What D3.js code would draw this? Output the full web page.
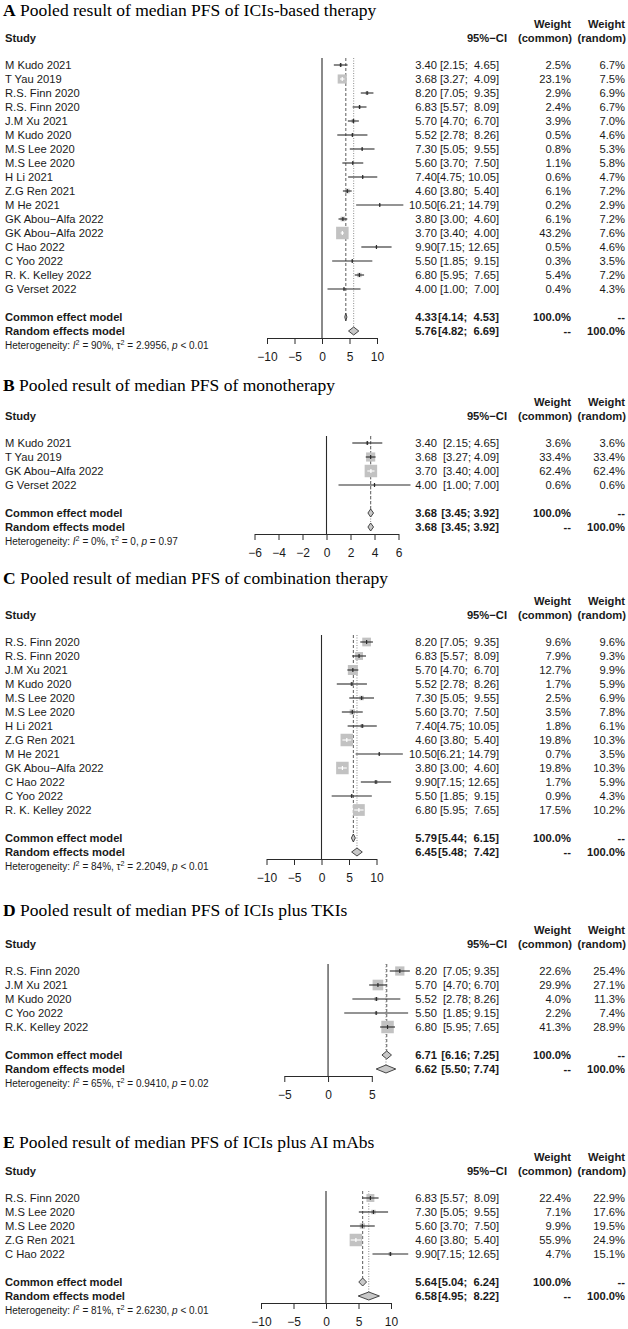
<!DOCTYPE html>
<html><head><meta charset="utf-8">
<script src="https://cdn.jsdelivr.net/npm/d3@7"></script>
<style>body{margin:0;background:#fff} svg{display:block}</style>
</head><body><svg id="c" width="628" height="1329"></svg>
<script>
// ---------------- DATA ----------------
const panelLetters = ["A", "B", "C", "D", "E"];
const panelTitles = [
  "Pooled result of median PFS of ICIs-based therapy",
  "Pooled result of median PFS of monotherapy",
  "Pooled result of median PFS of combination therapy",
  "Pooled result of median PFS of ICIs plus TKIs",
  "Pooled result of median PFS of ICIs plus AI mAbs"
];

// Panel A
const studiesA = ["M Kudo 2021","T Yau 2019","R.S. Finn 2020","R.S. Finn 2020","J.M Xu 2021","M Kudo 2020","M.S Lee 2020","M.S Lee 2020","H Li 2021","Z.G Ren 2021","M He 2021","GK Abou\u2212Alfa 2022","GK Abou\u2212Alfa 2022","C Hao 2022","C Yoo 2022","R. K. Kelley 2022","G Verset 2022"];
const estA = [3.40,3.68,8.20,6.83,5.70,5.52,7.30,5.60,7.40,4.60,10.50,3.80,3.70,9.90,5.50,6.80,4.00];
const lowA = [2.15,3.27,7.05,5.57,4.70,2.78,5.05,3.70,4.75,3.80,6.21,3.00,3.40,7.15,1.85,5.95,1.00];
const upA  = [4.65,4.09,9.35,8.09,6.70,8.26,9.55,7.50,10.05,5.40,14.79,4.60,4.00,12.65,9.15,7.65,7.00];
const wCommonA = [2.5,23.1,2.9,2.4,3.9,0.5,0.8,1.1,0.6,6.1,0.2,6.1,43.2,0.5,0.3,5.4,0.4];
const wRandomA = [6.7,7.5,6.9,6.7,7.0,4.6,5.3,5.8,4.7,7.2,2.9,7.2,7.6,4.6,3.5,7.2,4.3];
const commonA = [4.33,4.14,4.53];
const randomA = [5.76,4.82,6.69];
const hetA = ["90%","2.9956","< 0.01"];
const ticksA = [-10,-5,0,5,10];

// Panel B
const studiesB = ["M Kudo 2021","T Yau 2019","GK Abou\u2212Alfa 2022","G Verset 2022"];
const estB = [3.40,3.68,3.70,4.00];
const lowB = [2.15,3.27,3.40,1.00];
const upB  = [4.65,4.09,4.00,7.00];
const wCommonB = [3.6,33.4,62.4,0.6];
const wRandomB = [3.6,33.4,62.4,0.6];
const commonB = [3.68,3.45,3.92];
const randomB = [3.68,3.45,3.92];
const hetB = ["0%","0","= 0.97"];
const ticksB = [-6,-4,-2,0,2,4,6];

// Panel C
const studiesC = ["R.S. Finn 2020","R.S. Finn 2020","J.M Xu 2021","M Kudo 2020","M.S Lee 2020","M.S Lee 2020","H Li 2021","Z.G Ren 2021","M He 2021","GK Abou\u2212Alfa 2022","C Hao 2022","C Yoo 2022","R. K. Kelley 2022"];
const estC = [8.20,6.83,5.70,5.52,7.30,5.60,7.40,4.60,10.50,3.80,9.90,5.50,6.80];
const lowC = [7.05,5.57,4.70,2.78,5.05,3.70,4.75,3.80,6.21,3.00,7.15,1.85,5.95];
const upC  = [9.35,8.09,6.70,8.26,9.55,7.50,10.05,5.40,14.79,4.60,12.65,9.15,7.65];
const wCommonC = [9.6,7.9,12.7,1.7,2.5,3.5,1.8,19.8,0.7,19.8,1.7,0.9,17.5];
const wRandomC = [9.6,9.3,9.9,5.9,6.9,7.8,6.1,10.3,3.5,10.3,5.9,4.3,10.2];
const commonC = [5.79,5.44,6.15];
const randomC = [6.45,5.48,7.42];
const hetC = ["84%","2.2049","< 0.01"];
const ticksC = [-10,-5,0,5,10];

// Panel D
const studiesD = ["R.S. Finn 2020","J.M Xu 2021","M Kudo 2020","C Yoo 2022","R.K. Kelley 2022"];
const estD = [8.20,5.70,5.52,5.50,6.80];
const lowD = [7.05,4.70,2.78,1.85,5.95];
const upD  = [9.35,6.70,8.26,9.15,7.65];
const wCommonD = [22.6,29.9,4.0,2.2,41.3];
const wRandomD = [25.4,27.1,11.3,7.4,28.9];
const commonD = [6.71,6.16,7.25];
const randomD = [6.62,5.50,7.74];
const hetD = ["65%","0.9410","= 0.02"];
const ticksD = [-5,0,5];

// Panel E
const studiesE = ["R.S. Finn 2020","M.S Lee 2020","M.S Lee 2020","Z.G Ren 2021","C Hao 2022"];
const estE = [6.83,7.30,5.60,4.60,9.90];
const lowE = [5.57,5.05,3.70,3.80,7.15];
const upE  = [8.09,9.55,7.50,5.40,12.65];
const wCommonE = [22.4,7.1,9.9,55.9,4.7];
const wRandomE = [22.9,17.6,19.5,24.9,15.1];
const commonE = [5.64,5.04,6.24];
const randomE = [6.58,4.95,8.22];
const hetE = ["81%","2.6230","< 0.01"];
const ticksE = [-10,-5,0,5,10];

// ---------------- LAYOUT ----------------
const layout = [
  {title: 10,   first: 65,   range: [267, 377]},
  {title: 385,  first: 443,  range: [254.5, 398.5]},
  {title: 578,  first: 642,  range: [266.5, 376.5]},
  {title: 910,  first: 971,  range: [284.3, 371.8]},
  {title: 1142, first: 1198, range: [261, 391]}
];
const panels = [
  {studies: studiesA, est: estA, low: lowA, up: upA, wc: wCommonA, wr: wRandomA, common: commonA, random: randomA, het: hetA, ticks: ticksA},
  {studies: studiesB, est: estB, low: lowB, up: upB, wc: wCommonB, wr: wRandomB, common: commonB, random: randomB, het: hetB, ticks: ticksB},
  {studies: studiesC, est: estC, low: lowC, up: upC, wc: wCommonC, wr: wRandomC, common: commonC, random: randomC, het: hetC, ticks: ticksC},
  {studies: studiesD, est: estD, low: lowD, up: upD, wc: wCommonD, wr: wRandomD, common: commonD, random: randomD, het: hetD, ticks: ticksD},
  {studies: studiesE, est: estE, low: lowE, up: upE, wc: wCommonE, wr: wRandomE, common: commonE, random: randomE, het: hetE, ticks: ticksE}
];

const SANS = "'Liberation Sans', Arial, Helvetica, sans-serif";
const SERIF = "'Liberation Serif', 'Times New Roman', serif";
const FS = 11.2;
const BL = FS * 0.36;
const STEP = 14;
const COL = {est: 437, ci: 499, ciHead: 507, wc: 571, wr: 625};
const INK = "#1a1a1a", LINE = "#2a2a2a", SQ = "#c2c2c2";
const NB = "\u00A0";

const svg = d3.select("#c");

function txt(g, x, y, s, anchor, bold, size) {
  return g.append("text").attr("x", x).attr("y", y)
    .attr("text-anchor", anchor || "start")
    .style("font-family", SANS).style("font-size", (size || FS) + "px")
    .style("font-weight", bold ? "bold" : "normal")
    .attr("fill", INK).text(s);
}

panels.forEach((p, k) => {
  const L = layout[k];
  const g = svg.append("g");
  const x = d3.scaleLinear().domain(d3.extent(p.ticks)).range(L.range);
  const n = p.studies.length;
  const rowY = i => L.first + i * STEP;
  const yCommon = rowY(n + 1), yRandom = rowY(n + 2);
  const axisY = yRandom + 7;
  const top = L.first - 7;
  const padUp = d3.max(p.up.concat([p.common[2], p.random[2]])) >= 10;
  const fmtCI = (lo, hi) => "[" + lo.toFixed(2) + ";" + NB + (padUp && hi < 10 ? NB : "") + hi.toFixed(2) + "]";

  // title
  const t = g.append("text").attr("x", 3).attr("y", L.title + 6)
    .style("font-family", SERIF).style("font-size", "17.5px").attr("fill", "#000");
  t.append("tspan").style("font-weight", "bold").text(panelLetters[k]);
  t.append("tspan").text(" " + panelTitles[k]);

  // headers
  const hW = L.first - 41 + BL, hS = L.first - 27 + BL;
  txt(g, COL.wc, hW, "Weight", "end", true);
  txt(g, COL.wr, hW, "Weight", "end", true);
  txt(g, 5, hS, "Study", "start", true);
  txt(g, COL.ciHead, hS, "95%\u2212CI", "end", true);
  txt(g, COL.wc + 1, hS, "(common)", "end", true);
  txt(g, COL.wr + 1, hS, "(random)", "end", true);

  // reference lines
  g.append("line").attr("x1", x(0)).attr("x2", x(0)).attr("y1", top).attr("y2", axisY)
    .attr("stroke", LINE).attr("stroke-width", 1.1);
  g.append("line").attr("x1", x(p.common[0])).attr("x2", x(p.common[0])).attr("y1", top).attr("y2", yCommon - 4)
    .attr("stroke", "#4a4a4a").attr("stroke-width", 0.9).attr("stroke-dasharray", "3,2");
  g.append("line").attr("x1", x(p.random[0])).attr("x2", x(p.random[0])).attr("y1", top).attr("y2", yRandom - 4)
    .attr("stroke", "#808080").attr("stroke-width", 0.9).attr("stroke-dasharray", "1,1.5");

  // studies
  const wmax = d3.max(p.wc);
  p.studies.forEach((s, i) => {
    const y = rowY(i);
    const side = Math.max(2, 12.5 * Math.sqrt(p.wc[i] / wmax));
    const cx = x(p.est[i]);
    g.append("rect").attr("x", cx - side / 2).attr("y", y - side / 2)
      .attr("width", side).attr("height", side).attr("fill", SQ);
    const inside = (x(p.up[i]) - x(p.low[i])) < side;
    const lc = inside ? "#fff" : LINE;
    g.append("line").attr("x1", x(p.low[i])).attr("x2", x(p.up[i])).attr("y1", y).attr("y2", y)
      .attr("stroke", lc).attr("stroke-width", 1.1);
    g.append("line").attr("x1", cx).attr("x2", cx).attr("y1", y - 2).attr("y2", y + 2)
      .attr("stroke", lc).attr("stroke-width", 1.2);

    txt(g, 5, y + BL, s);
    txt(g, COL.est, y + BL, p.est[i].toFixed(2), "end");
    txt(g, COL.ci, y + BL, fmtCI(p.low[i], p.up[i]), "end");
    txt(g, COL.wc, y + BL, p.wc[i].toFixed(1) + "%", "end");
    txt(g, COL.wr, y + BL, p.wr[i].toFixed(1) + "%", "end");
  });

  // summary diamonds
  [[p.common, yCommon, "Common effect model", "100.0%", "--"],
   [p.random, yRandom, "Random effects model", "--", "100.0%"]].forEach(([v, y, lab, a, b]) => {
    const pts = [[x(v[1]), y], [x(v[0]), y - 4], [x(v[2]), y], [x(v[0]), y + 4]];
    g.append("polygon").attr("points", pts.map(d => d.join(",")).join(" "))
      .attr("fill", "#c8c8c8").attr("stroke", "#333").attr("stroke-width", 0.9);
    txt(g, 5, y + BL, lab, "start", true);
    txt(g, COL.est, y + BL, v[0].toFixed(2), "end", true);
    txt(g, COL.ci, y + BL, fmtCI(v[1], v[2]), "end", true);
    txt(g, COL.wc, y + BL, a, "end", true);
    txt(g, COL.wr, y + BL, b, "end", true);
  });

  // heterogeneity
  const hs = 10;
  const ht = g.append("text").attr("x", 5).attr("y", yRandom + 14 + hs * 0.36)
    .style("font-family", SANS).style("font-size", hs + "px").attr("fill", INK);
  ht.append("tspan").text("Heterogeneity: ");
  ht.append("tspan").style("font-style", "italic").text("I");
  ht.append("tspan").attr("dy", -4).style("font-size", "7.2px").text("2");
  ht.append("tspan").attr("dy", 4).text(" = " + p.het[0] + ", \u03C4");
  ht.append("tspan").attr("dy", -4).style("font-size", "7.2px").text("2");
  ht.append("tspan").attr("dy", 4).text(" = " + p.het[1] + ", ");
  ht.append("tspan").style("font-style", "italic").text("p");
  ht.append("tspan").text(" " + p.het[2]);

  // axis
  const ax = g.append("g").attr("transform", `translate(0,${axisY})`)
    .call(d3.axisBottom(x).tickValues(p.ticks).tickSize(6).tickSizeOuter(0).tickPadding(8).tickFormat(d3.format("d")));
  ax.selectAll("path,line").attr("stroke", LINE).attr("stroke-width", 1);
  ax.selectAll("text").style("font-family", SANS).style("font-size", "12px").attr("fill", INK);
});
</script>
</body></html>
